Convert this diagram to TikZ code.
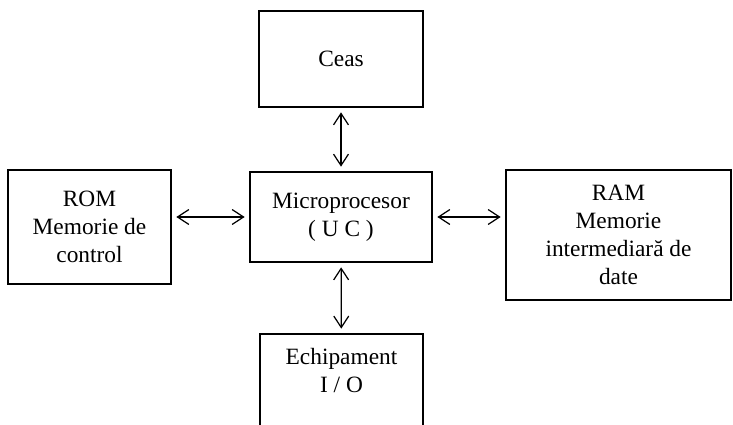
\documentclass[tikz,border=0pt]{standalone}
\usepackage{fontspec}
\setmainfont{Liberation Serif}
\usetikzlibrary{arrows.meta}
\begin{document}
\begin{tikzpicture}[x=0.02cm, y=-0.02cm,
  box/.style={draw, line width=1.1pt, align=center, inner sep=2pt, font=\fontsize{13.3}{16}\selectfont},
  link/.style={{Straight Barb[length=6.5pt,width=8.5pt]}-{Straight Barb[length=6.5pt,width=8.5pt]}, line width=0.7pt, shorten <=2.5pt, shorten >=2.5pt}]
\useasboundingbox (0,0) rectangle (733,425);
\clip (0,0) rectangle (733,425);
\node[box, minimum width=3.28cm, minimum height=1.92cm] (ceas) at (341,59) {Ceas};
\node[box, minimum width=3.64cm, minimum height=1.8cm] (up) at (341,217) {Microprocesor\\( U C )};
\node[box, minimum width=3.26cm, minimum height=2.28cm] (rom) at (89.5,227) {ROM\\Memorie de\\control};
\node[box, minimum width=4.5cm, minimum height=2.6cm] (ram) at (618.5,235) {RAM\\Memorie\\intermediară de\\date};
\node[box, minimum width=3.26cm, anchor=north, inner ysep=8pt, text depth=2cm] (io) at (341.5,333) {Echipament\\I / O};
\draw[link] (ceas) -- (up);
\draw[link] (rom.east |- up.west) -- (up.west);
\draw[link] (up.east) -- (up.east -| ram.west);
\draw[link] (up) -- (io);
\end{tikzpicture}
\end{document}
